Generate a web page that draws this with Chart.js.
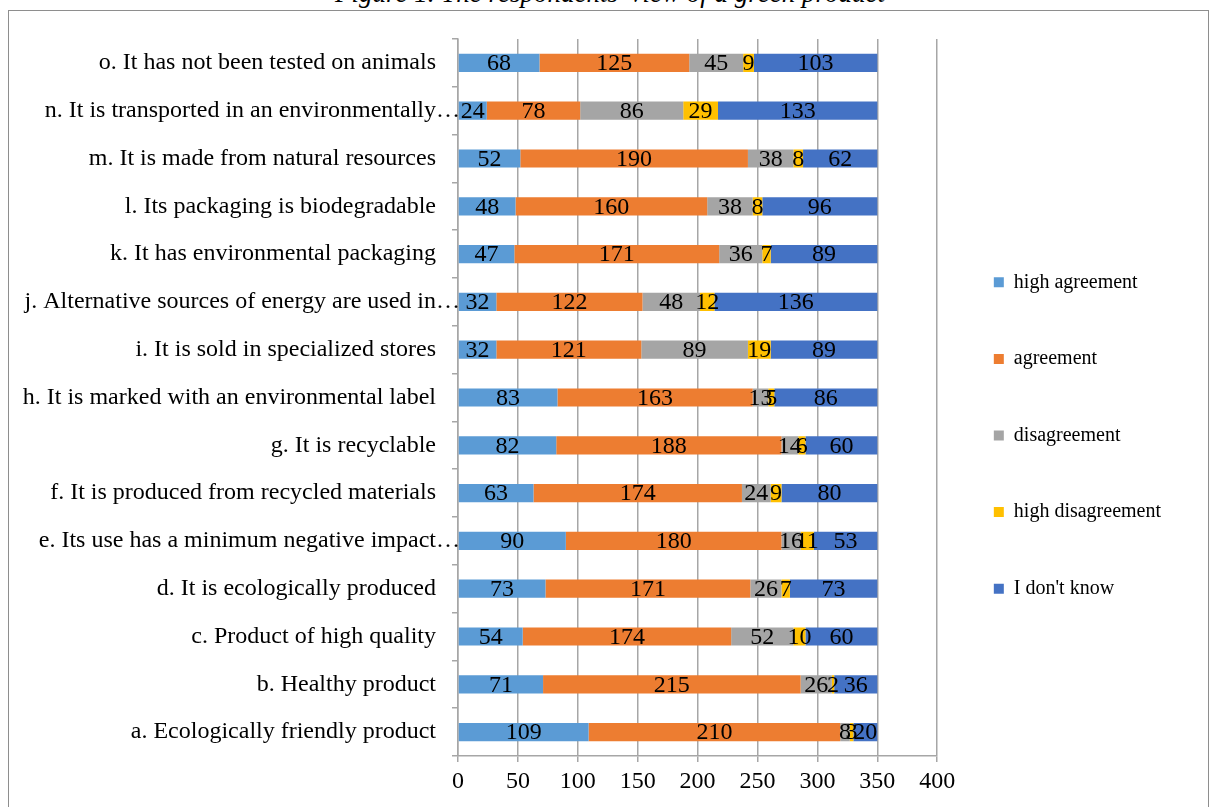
<!DOCTYPE html>
<html>
<head>
<meta charset="utf-8">
<script src="https://cdn.jsdelivr.net/npm/chart.js@4.4.1/dist/chart.umd.min.js"></script>
<style>
  html, body { margin: 0; padding: 0; background: #fff; overflow: hidden; }
  #title {
    position: absolute; left: 0; width: 1220px; top: -22px; line-height: 30px;
    text-align: center; font: italic 27px "Liberation Serif", "Times New Roman", serif; color: #000;
  }
  #frame {
    position: absolute; left: 8px; top: 10px; width: 1201px; height: 820px;
    border: 1.5px solid #8e8e8e; box-sizing: border-box; background: #fff;
  }
  #wrap { position: absolute; left: 1px; top: 1px; width: 1198px; height: 800px; }
</style>
</head>
<body>
<div id="title">Figure 1. The respondents' view of a green product</div>
<div id="frame"><div id="wrap"><canvas id="c"></canvas></div></div>
<script>
// Statements, listed top to bottom as they appear on the axis
const categories = [
  "o. It has not been tested on animals",
  "n. It is transported in an environmentally…",
  "m. It is made from natural resources",
  "l. Its packaging is biodegradable",
  "k. It has environmental packaging",
  "j. Alternative sources of energy are used in…",
  "i. It is sold in specialized stores",
  "h. It is marked with an environmental label",
  "g. It is recyclable",
  "f. It is produced from recycled materials",
  "e. Its use has a minimum negative impact…",
  "d. It is ecologically produced",
  "c. Product of high quality",
  "b. Healthy product",
  "a. Ecologically friendly product"
];

const seriesNames = ["high agreement", "agreement", "disagreement", "high disagreement", "I don't know"];

const highAgreement     = [68, 24, 52, 48, 47, 32, 32, 83, 82, 63, 90, 73, 54, 71, 109];
const agreement         = [125, 78, 190, 160, 171, 122, 121, 163, 188, 174, 180, 171, 174, 215, 210];
const disagreement      = [45, 86, 38, 38, 36, 48, 89, 13, 14, 24, 16, 26, 52, 26, 8];
const highDisagreement  = [9, 29, 8, 8, 7, 12, 19, 5, 6, 9, 11, 7, 10, 2, 3];
const dontKnow          = [103, 133, 62, 96, 89, 136, 89, 86, 60, 80, 53, 73, 60, 36, 20];

const xTicks = [0, 50, 100, 150, 200, 250, 300, 350, 400];

const colors = ["#5B9BD5", "#ED7D31", "#A5A5A5", "#FFC000", "#4472C4"];
const FONT = '"Liberation Serif", "Times New Roman", serif';

// Writes each segment's value in the middle of the segment
const valueLabels = {
  id: 'valueLabels',
  afterDatasetsDraw(chart) {
    const ctx = chart.ctx;
    ctx.save();
    ctx.font = '24px ' + FONT;
    ctx.fillStyle = '#000';
    ctx.textAlign = 'center';
    ctx.textBaseline = 'middle';
    chart.data.datasets.forEach((ds, di) => {
      const meta = chart.getDatasetMeta(di);
      meta.data.forEach((el, i) => {
        const cx = (el.x + el.base) / 2;
        ctx.fillText(String(ds.data[i]), cx, el.y + 1);
      });
    });
    ctx.restore();
  }
};

const series = [highAgreement, agreement, disagreement, highDisagreement, dontKnow];

new Chart(document.getElementById('c'), {
  type: 'bar',
  data: {
    labels: categories,
    datasets: series.map((d, k) => ({
      label: seriesNames[k],
      data: d,
      backgroundColor: colors[k],
      borderWidth: 0,
      categoryPercentage: 1,
      barPercentage: 0.38
    }))
  },
  options: {
    indexAxis: 'y',
    responsive: true,
    maintainAspectRatio: false,
    animation: false,
    layout: { padding: { top: 27, bottom: 8, left: 0, right: 37 } },
    scales: {
      x: {
        stacked: true,
        min: 0, max: 400,
        afterBuildTicks(s) { s.ticks = xTicks.map(v => ({ value: v })); },
        grid: { color: '#a6a6a6', lineWidth: 1.5, drawTicks: true, tickLength: 6 },
        border: { color: '#a6a6a6', width: 1.5 },
        ticks: { color: '#000', font: { family: FONT, size: 24 }, padding: 5, maxRotation: 0 },
        afterFit(s) { s.height = 48; }
      },
      y: {
        stacked: true,
        grid: { offset: true, drawOnChartArea: false, drawTicks: true, tickLength: 6, color: '#a6a6a6', lineWidth: 1.5 },
        border: { color: '#a6a6a6', width: 1.5 },
        ticks: {
          color: '#000', autoSkip: false, padding: -8,
          font: { family: FONT, size: 24 },
          callback(v, i) {
            const t = categories[i];
            return t.endsWith('…') ? t : t + '    ';
          }
        },
        afterFit(s) { s.width = 448; }
      }
    },
    plugins: {
      legend: {
        position: 'right',
        align: 'center',
        title: { display: true, text: '', font: { size: 10 }, padding: { top: 16, bottom: 0 } },
        labels: {
          color: '#000',
          font: { family: FONT, size: 20 },
          boxWidth: 10, boxHeight: 10,
          padding: 56.6
        }
      },
      tooltip: { enabled: false }
    }
  },
  plugins: [valueLabels]
});
</script>
</body>
</html>
